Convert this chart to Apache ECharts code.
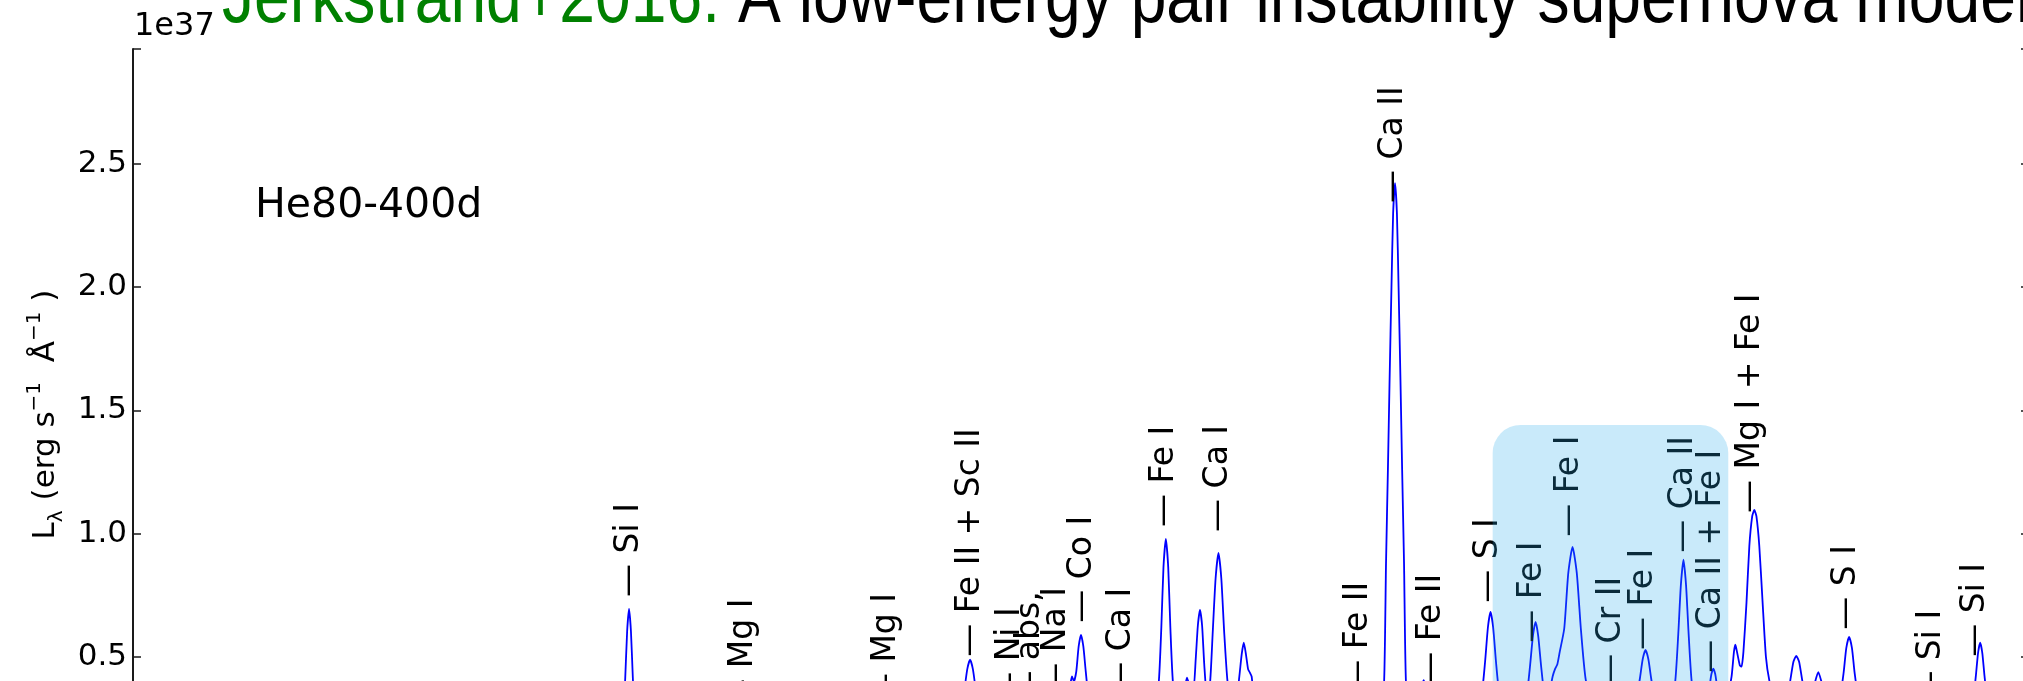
<!DOCTYPE html>
<html>
<head>
<meta charset="utf-8">
<script src="https://cdn.jsdelivr.net/npm/echarts@6/dist/echarts.min.js"></script>
<style>
  html, body { margin: 0; padding: 0; background: #fff; overflow: hidden; width: 2023px; height: 681px; }
  #chart { position: absolute; left: 0; top: 0; width: 2100px; height: 820px; }
</style>
</head>
<body>
<div id="chart"></div>
<script>
// Model spectrum He80-400d: wavelength in Angstrom, luminosity in units of 1e37 erg/s/A
const wavelength = [
  2000, 2400, 2800, 3200, 3500, 3700, 3850, 3935, 3970, 4020,
  4054, 4068, 4077, 4085, 4093, 4101, 4109, 4118, 4132, 4250,
  4400, 4520, 4571, 4620, 4750, 4900, 5050, 5140, 5175, 5210,
  5300, 5400, 5472, 5494, 5508, 5520, 5532, 5544, 5556, 5570,
  5592, 5650, 5701, 5760, 5830, 5890, 5930, 5950, 5962, 5970,
  5980, 5990, 6000, 6010, 6020, 6031, 6050, 6100, 6165, 6230,
  6290, 6310, 6328, 6339, 6348, 6358, 6368, 6377, 6388, 6406,
  6430, 6447, 6462, 6474, 6484, 6493, 6502, 6511, 6520, 6532,
  6545, 6556, 6568, 6580, 6592, 6604, 6618, 6632, 6655, 6668,
  6678, 6687, 6696, 6705, 6712, 6720, 6730, 6760, 6850, 6950,
  7050, 7155, 7230, 7265, 7279, 7287, 7295, 7302, 7310, 7317,
  7325, 7333, 7340, 7348, 7355, 7363, 7371, 7385, 7420, 7446,
  7470, 7560, 7620, 7671, 7692, 7705, 7717, 7728, 7739, 7751,
  7764, 7785, 7840, 7864, 7882, 7895, 7907, 7918, 7929, 7941,
  7954, 7966, 7978, 7990, 8000, 8010, 8020, 8039, 8056, 8074,
  8092, 8109, 8130, 8162, 8200, 8238, 8280, 8322, 8344, 8358,
  8370, 8382, 8394, 8406, 8420, 8442, 8487, 8507, 8520, 8531,
  8542, 8553, 8564, 8577, 8597, 8620, 8640, 8652, 8660, 8668,
  8676, 8686, 8700, 8730, 8745, 8755, 8761, 8768, 8780, 8787,
  8795, 8808, 8820, 8832, 8841, 8850, 8862, 8876, 8890, 8905,
  8925, 8960, 8978, 8992, 9006, 9018, 9030, 9044, 9060, 9085,
  9098, 9111, 9124, 9140, 9183, 9204, 9218, 9229, 9241, 9253,
  9264, 9278, 9299, 9400, 9500, 9587, 9680, 9749, 9766, 9776,
  9785, 9794, 9803, 9812, 9822, 9839, 9900, 10000
];
const luminosity = [
  0.02, 0.03, 0.05, 0.07, 0.09, 0.11, 0.13, 0.18, 0.19, 0.15,
  0.156, 0.239, 0.415, 0.604, 0.694, 0.604, 0.415, 0.239, 0.156, 0.14,
  0.15, 0.20, 0.30, 0.20, 0.16, 0.18, 0.20, 0.24, 0.32, 0.24,
  0.22, 0.23, 0.253, 0.289, 0.366, 0.449, 0.488, 0.449, 0.366, 0.289,
  0.253, 0.25, 0.28, 0.27, 0.28, 0.31, 0.30, 0.36, 0.42, 0.40,
  0.44, 0.541, 0.589, 0.541, 0.441, 0.347, 0.303, 0.28, 0.31, 0.28,
  0.28, 0.288, 0.395, 0.62, 0.864, 0.979, 0.864, 0.62, 0.395, 0.295,
  0.33, 0.415, 0.37, 0.364, 0.49, 0.626, 0.69, 0.626, 0.47, 0.33,
  0.40, 0.603, 0.819, 0.922, 0.819, 0.603, 0.402, 0.33, 0.33, 0.42,
  0.51, 0.557, 0.51, 0.45, 0.437, 0.42, 0.34, 0.30, 0.28, 0.27,
  0.28, 0.32, 0.30, 0.31, 0.40, 0.88, 1.26, 1.62, 2.0, 2.3,
  2.423, 2.3, 2.0, 1.62, 1.26, 0.88, 0.40, 0.32, 0.33, 0.405,
  0.33, 0.28, 0.28, 0.305, 0.36, 0.48, 0.62, 0.682, 0.62, 0.48,
  0.36, 0.305, 0.30, 0.31, 0.356, 0.466, 0.586, 0.642, 0.586, 0.466,
  0.356, 0.33, 0.36, 0.42, 0.45, 0.47, 0.52, 0.615, 0.84, 0.946,
  0.84, 0.615, 0.405, 0.307, 0.30, 0.33, 0.30, 0.30, 0.337, 0.411,
  0.49, 0.528, 0.49, 0.411, 0.337, 0.30, 0.31, 0.397, 0.59, 0.79,
  0.894, 0.79, 0.59, 0.397, 0.31, 0.31, 0.33, 0.38, 0.43, 0.452,
  0.43, 0.37, 0.33, 0.36, 0.42, 0.52, 0.549, 0.52, 0.465, 0.46,
  0.52, 0.72, 0.95, 1.07, 1.096, 1.07, 0.95, 0.72, 0.50, 0.40,
  0.33, 0.30, 0.33, 0.40, 0.48, 0.504, 0.48, 0.40, 0.33, 0.34,
  0.40, 0.438, 0.40, 0.34, 0.303, 0.346, 0.437, 0.535, 0.581, 0.535,
  0.437, 0.346, 0.303, 0.29, 0.30, 0.34, 0.29, 0.303, 0.345, 0.425,
  0.515, 0.557, 0.515, 0.425, 0.345, 0.303, 0.28, 0.26
];

// Line identifications: name, wavelength (A) and the luminosity where the marker dash starts
const lineNames = [
  'Si I', 'Mg I', 'Mg I', 'Fe II + Sc II', 'Ni I', 'abs,', 'Na I', 'Co I', 'Ca I',
  'Fe I', 'Ca I', 'Fe II', 'Ca II', 'Fe II', 'S I', 'Fe I', 'Fe I',
  'Cr II', 'Fe I', 'Ca II', 'Ca II + Fe I', 'Mg I + Fe I', 'S I', 'Si I', 'Si I'
];
const lineWavelengths = [
  4093, 4575, 5178, 5532, 5701, 5785, 5895, 6005, 6170,
  6352, 6580, 7172, 7318, 7480, 7720, 7905, 8061,
  8238, 8373, 8542, 8660, 8824, 9229, 9587, 9773
];
const lineLabelY = [
  0.743, 0.277, 0.300, 0.500, 0.305, 0.310, 0.342, 0.638, 0.346,
  1.027, 1.007, 0.354, 2.342, 0.387, 0.719, 0.557, 0.987,
  0.378, 0.528, 0.922, 0.435, 1.084, 0.610, 0.310, 0.500
];

// Shaded wavelength window [start, end] and its upper edge in luminosity
const bandRange = [7737, 8731];
const bandTop = 1.441;

const xRange = [2000, 10000];
const yRange = [0, 2.967];

const chart = echarts.init(document.getElementById('chart'), null, { renderer: 'canvas' });

const axisColor = '#1a1a1a';
const spine = { show: true, lineStyle: { color: axisColor, width: 2 } };
const tickMajor = { show: true, inside: true, length: 8, lineStyle: { color: axisColor, width: 1.5 } };
const tickMinor = { show: true, splitNumber: 10, length: 4, lineStyle: { color: axisColor, width: 1.2 } };

const option = {
  animation: false,
  backgroundColor: '#ffffff',
  grid: { left: 133, top: 49, width: 1896, height: 731, containLabel: false },
  xAxis: [
    {
      type: 'value', position: 'bottom', min: xRange[0], max: xRange[1], interval: 1000,
      axisLine: spine, axisTick: tickMajor, minorTick: tickMinor,
      axisLabel: { show: false }, splitLine: { show: false }
    },
    {
      type: 'value', position: 'top', min: xRange[0], max: xRange[1], interval: 1000,
      axisLine: spine, axisTick: tickMajor, minorTick: tickMinor,
      axisLabel: { show: false }, splitLine: { show: false }
    }
  ],
  yAxis: [
    {
      type: 'value', position: 'left', min: yRange[0], max: yRange[1], interval: 0.5,
      axisLine: spine, axisTick: tickMajor, splitLine: { show: false },
      axisLabel: {
        margin: 6, color: '#000', fontFamily: 'DejaVu Sans', fontSize: 31,
        formatter: v => (v > 0 && Math.abs(v * 2 - Math.round(v * 2)) < 1e-6) ? v.toFixed(1) : ''
      },
      name: '{b|L}{sub|λ}{b| (erg s}{sup|−1}{b|  Å}{sup|−1}{b| )}',
      nameLocation: 'middle', nameRotate: 90, nameGap: 64,
      nameTextStyle: {
        color: '#000', fontFamily: 'DejaVu Sans',
        rich: {
          b: { fontSize: 31, fontFamily: 'DejaVu Sans', color: '#000', lineHeight: 42, verticalAlign: 'middle' },
          sub: { fontSize: 20, fontFamily: 'DejaVu Sans', color: '#000', lineHeight: 19, verticalAlign: 'bottom' },
          sup: { fontSize: 20, fontFamily: 'DejaVu Sans', color: '#000', lineHeight: 19, verticalAlign: 'top' }
        }
      }
    },
    {
      type: 'value', position: 'right', min: yRange[0], max: yRange[1], interval: 0.5,
      axisLine: spine, axisTick: tickMajor, splitLine: { show: false },
      axisLabel: { show: false }
    }
  ],
  graphic: [
    {
      type: 'text', x: 222, y: 1, scaleX: 0.845, z: 10,
      style: { text: 'Jerkstrand+2016.', font: '76px "Liberation Sans"', fill: '#008000', align: 'left', verticalAlign: 'middle' }
    },
    {
      type: 'text', x: 738, y: 1, scaleX: 0.845, z: 10,
      style: { text: 'A low-energy pair instability supernova model', font: '76px "Liberation Sans"', fill: '#000', align: 'left', verticalAlign: 'middle' }
    },
    {
      type: 'text', x: 134, y: 27, z: 10,
      style: { text: '1e37', font: '32px "DejaVu Sans"', fill: '#000', align: 'left', verticalAlign: 'middle' }
    },
    {
      type: 'text', x: 255, y: 206, z: 10,
      style: { text: 'He80-400d', font: '41px "DejaVu Sans"', fill: '#000', align: 'left', verticalAlign: 'middle' }
    }
  ],
  series: [
    {
      type: 'line', xAxisIndex: 0, yAxisIndex: 0, z: 2,
      data: wavelength.map((w, i) => [w, luminosity[i]]),
      showSymbol: false, smooth: 0.2, clip: true,
      lineStyle: { color: '#0000ff', width: 1.8 }
    },
    {
      type: 'custom', xAxisIndex: 0, yAxisIndex: 0, z: 3,
      data: lineWavelengths.map((w, i) => [w, lineLabelY[i]]),
      renderItem: (params, api) => {
        const p = api.coord([api.value(0), api.value(1)]);
        return {
          type: 'text', x: p[0], y: p[1], rotation: Math.PI / 2,
          style: {
            text: '\u2014 ' + lineNames[params.dataIndex],
            font: '33px "DejaVu Sans"', fill: '#000',
            align: 'left', verticalAlign: 'middle'
          }
        };
      }
    },
    {
      type: 'custom', xAxisIndex: 0, yAxisIndex: 0, z: 4,
      data: [[bandRange[0], bandRange[1], bandTop, -0.3]],
      renderItem: (params, api) => {
        const tl = api.coord([api.value(0), api.value(2)]);
        const br = api.coord([api.value(1), api.value(3)]);
        return {
          type: 'rect',
          shape: { x: tl[0], y: tl[1], width: br[0] - tl[0], height: br[1] - tl[1], r: 28 },
          style: { fill: 'rgba(40, 170, 235, 0.25)' }
        };
      }
    }
  ]
};

chart.setOption(option);
</script>
</body>
</html>
